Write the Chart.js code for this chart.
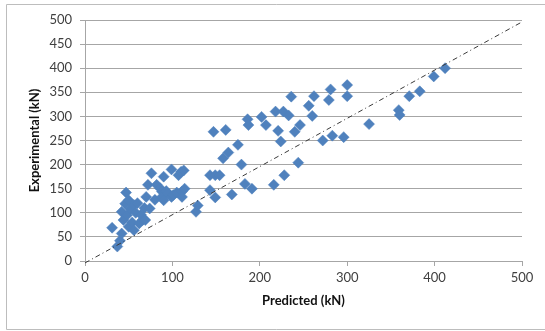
<!DOCTYPE html>
<html>
<head>
<meta charset="utf-8">
<script src="https://cdn.jsdelivr.net/npm/chart.js@4/dist/chart.umd.min.js"></script>
<style>
  html, body { margin: 0; padding: 0; background: #ffffff; }
  #wrap { width: 545px; height: 331px; position: relative; }
</style>
</head>
<body>
<div id="wrap"><canvas id="c" width="545" height="331"></canvas></div>
<script>
// Predicted vs. experimental capacity (kN)
const predicted = [
  31, 37, 40, 42, 44, 42, 46, 47, 50, 48, 50, 52, 54, 56, 56, 58, 60, 62, 64, 66,
  68, 70, 72, 74, 69, 76, 80, 82, 86, 88, 88, 90, 90, 93, 95, 99, 99, 101, 105, 107,
  110, 111, 111, 114, 113, 127, 129, 143, 143, 147, 149, 149, 154, 158, 161, 164, 168, 175, 179, 183,
  186, 187, 191, 202, 207, 216, 218, 221, 224, 227, 228, 233, 236, 240, 244, 246, 256, 260, 262, 272,
  279, 281, 283, 296, 300, 300, 325, 359, 360, 371, 383, 399, 412
];
const experimental = [
  69, 30, 42, 57, 85, 102, 119, 142, 126, 95, 71, 108, 80, 64, 116, 100, 120, 78, 96, 85,
  110, 133, 158, 109, 85, 182, 127, 158, 151, 144, 133, 126, 175, 145, 140, 190, 133, 137, 142, 178,
  185, 144, 133, 150, 188, 102, 115, 147, 178, 268, 132, 178, 178, 213, 272, 225, 138, 241, 200, 160,
  294, 282, 150, 299, 282, 158, 310, 270, 248, 310, 178, 302, 341, 268, 204, 282, 322, 301, 342, 250,
  334, 356, 260, 257, 365, 342, 284, 313, 303, 342, 352, 383, 400
];
// 1:1 reference line endpoints
const refX = [0, 500];
const refY = [-4, 496];

const points = predicted.map((p, i) => ({ x: p, y: experimental[i] }));
const refLine = refX.map((v, i) => ({ x: v, y: refY[i] }));

const frame = {
  id: 'frame',
  beforeDraw(chart) {
    const ctx = chart.ctx;
    ctx.save();
    ctx.strokeStyle = '#bdbdbd';
    ctx.lineWidth = 1;
    ctx.beginPath();
    ctx.moveTo(560, 4.5);
    ctx.lineTo(6.5, 4.5);
    ctx.lineTo(6.5, 329.5);
    ctx.lineTo(560, 329.5);
    ctx.stroke();
    ctx.restore();
  }
};

const tickFont = { family: 'Lato, "Open Sans", sans-serif', size: 13 };
const titleFont = { family: 'Lato, "Open Sans", sans-serif', size: 13, weight: 'bold' };

new Chart(document.getElementById('c'), {
  type: 'scatter',
  data: {
    datasets: [
      {
        type: 'line',
        data: refLine,
        borderColor: '#3a3a3a',
        borderWidth: 1,
        borderDash: [5, 3, 1, 3],
        pointRadius: 0,
        fill: false,
        clip: false
      },
      {
        data: points,
        pointStyle: 'rectRot',
        pointRadius: 5.5,
        pointHoverRadius: 5.5,
        backgroundColor: '#4f81bd',
        borderColor: '#4f81bd',
        borderWidth: 0.5
      }
    ]
  },
  options: {
    responsive: false,
    animation: false,
    layout: { padding: { left: 0, top: 20, right: 23, bottom: 0 } },
    plugins: { legend: { display: false }, tooltip: { enabled: false } },
    scales: {
      x: {
        type: 'linear',
        min: 0, max: 500,
        afterFit(s) { s.height = 70; },
        ticks: { stepSize: 100, color: '#404040', font: tickFont, padding: 4 },
        grid: { drawOnChartArea: false, drawTicks: true, tickLength: 5, color: '#a6a6a6' },
        border: { color: '#a6a6a6' },
        title: { display: true, text: 'Predicted (kN)', color: '#111111', font: titleFont, padding: { top: 0, bottom: 22 } }
      },
      y: {
        min: 0, max: 500,
        afterFit(s) { s.width = 85; },
        ticks: { stepSize: 50, color: '#404040', font: tickFont, padding: 8 },
        grid: { color: '#a6a6a6', tickLength: 5 },
        border: { color: '#a6a6a6' },
        title: { display: true, text: 'Experimental (kN)', color: '#111111', font: titleFont, padding: { top: 27, bottom: 0 } }
      }
    }
  },
  plugins: [frame]
});
</script>
</body>
</html>
